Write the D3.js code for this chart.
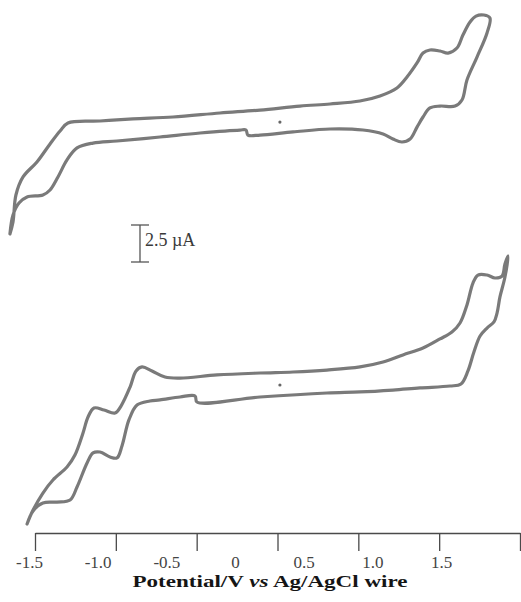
<!DOCTYPE html>
<html>
<head>
<meta charset="utf-8">
<script src="https://cdn.jsdelivr.net/npm/d3@7/dist/d3.min.js"></script>
<style>
  html, body { margin: 0; padding: 0; background: #fff; }
  svg { display: block; }
</style>
</head>
<body>
<svg id="chart" width="521" height="602"></svg>
<script>
// Cyclic voltammograms: potential (V) and current (µA), traced as closed loops.
const cvTopPotential = [
  -1.655, -1.636, -1.618, -1.574, -1.488, -1.407, -1.345, -1.296, -1.098, -0.894,
  -0.646, -0.356, -0.108, 0.139, 0.325, 0.510, 0.634, 0.739, 0.801, 0.863,
  0.900, 0.943, 1.005, 1.055, 1.110, 1.147, 1.191, 1.228, 1.277, 1.314,
  1.296, 1.234, 1.172, 1.141, 1.098, 1.005, 0.943, 0.900, 0.863, 0.820,
  0.770, 0.714, 0.653, 0.529, 0.325, 0.096, -0.108, -0.183, -0.195, -0.232,
  -0.479, -0.727, -0.993, -1.141, -1.240, -1.302, -1.358, -1.407, -1.451, -1.549,
  -1.599, -1.636, -1.655
];
const cvTopCurrent = [
  -7.36, -6.55, -4.73, -3.51, -2.50, -1.28, -0.41, 0.14, 0.27, 0.41,
  0.54, 0.81, 1.01, 1.28, 1.42, 1.62, 1.96, 2.50, 3.24, 4.19,
  4.86, 5.07, 5.00, 4.86, 5.20, 6.08, 6.96, 7.36, 7.43, 7.23,
  6.22, 4.59, 3.04, 1.69, 1.28, 1.28, 1.15, 0.54, -0.14, -0.95,
  -1.15, -0.95, -0.61, -0.34, -0.27, -0.47, -0.68, -0.68, -0.34, -0.34,
  -0.54, -0.81, -1.08, -1.22, -1.55, -2.36, -3.51, -4.39, -4.73, -4.86,
  -5.27, -6.08, -7.36
];

const cvBottomPotential = [
  -1.549, -1.512, -1.451, -1.389, -1.302, -1.253, -1.203, -1.172, -1.135, -1.073,
  -1.005, -0.968, -0.912, -0.875, -0.838, -0.776, -0.696, -0.603, -0.374, -0.108,
  0.096, 0.306, 0.510, 0.653, 0.776, 0.900, 1.005, 1.079, 1.129, 1.172,
  1.209, 1.240, 1.296, 1.345, 1.389, 1.407, 1.426, 1.407, 1.376, 1.358,
  1.339, 1.296, 1.253, 1.215, 1.178, 1.135, 1.067, 0.881, 0.714, 0.510,
  0.306, -0.108, -0.498, -0.510, -0.603, -0.727, -0.789, -0.869, -0.919, -0.962,
  -0.993, -1.036, -1.098, -1.141, -1.178, -1.240, -1.283, -1.364, -1.451, -1.512,
  -1.549
];
const cvBottomCurrent = [
  -9.39, -8.45, -7.30, -6.42, -5.54, -4.73, -3.24, -2.16, -1.55, -1.69,
  -1.89, -1.42, -0.14, 0.95, 1.22, 0.95, 0.54, 0.47, 0.68, 0.81,
  0.88, 1.01, 1.22, 1.55, 2.03, 2.50, 3.11, 3.58, 4.19, 5.41,
  6.89, 7.43, 7.43, 7.23, 7.36, 8.18, 8.72, 7.30, 5.95, 4.86,
  4.26, 3.85, 3.31, 2.23, 0.95, 0.07, -0.07, -0.20, -0.34, -0.47,
  -0.54, -0.81, -1.15, -0.74, -0.81, -1.01, -1.08, -1.35, -2.36, -4.12,
  -4.93, -4.86, -4.53, -4.59, -5.27, -6.89, -7.77, -7.91, -7.97, -8.51,
  -9.39
];

// Small reference marks near 0 V on each trace
const markerPotential = [0.015, 0.015];
const markerCurrent = [0.2, 0.0];

const xTickValues = [-1.5, -1.0, -0.5, 0, 0.5, 1.0, 1.5];
const xTickLabels = ["-1.5", "-1.0", "-0.5", "0", "0.5", "1.0", "1.5"];
const scaleBarCurrent = 2.5;
const scaleBarLabel = "2.5 µA";

const svg = d3.select("#chart");
const traceColor = "#7a7a7a";
const serif = "'Liberation Serif', 'Times New Roman', serif";

// Potential axis (tick marks) and the offset labels printed beneath them
const x = d3.scaleLinear().domain([-1.5, 1.5]).range([35, 520]);
const xLabel = d3.scaleLinear().domain([-1.5, 1.5]).range([29, 441]);

// One current scale per trace, same µA-to-pixel factor
const yTop = d3.scaleLinear().domain([0, 2.5]).range([125, 88]);
const yBottom = d3.scaleLinear().domain([0, 2.5]).range([385, 348]);

function drawTrace(potential, current, yScale) {
  const pts = potential.map((e, i) => [e, current[i]]);
  const line = d3.line()
    .x(d => x(d[0]))
    .y(d => yScale(d[1]))
    .curve(d3.curveCatmullRom.alpha(0.5));
  svg.append("path")
    .datum(pts)
    .attr("d", line)
    .attr("fill", "none")
    .attr("stroke", traceColor)
    .attr("stroke-width", 3.2)
    .attr("stroke-linejoin", "round")
    .attr("stroke-linecap", "round");
}

drawTrace(cvTopPotential, cvTopCurrent, yTop);
drawTrace(cvBottomPotential, cvBottomCurrent, yBottom);

[yTop, yBottom].forEach((ys, i) => {
  svg.append("circle")
    .attr("cx", x(markerPotential[i]))
    .attr("cy", ys(markerCurrent[i]))
    .attr("r", 1.6)
    .attr("fill", "#666");
});

// Current scale bar
const barX = 140, barBottom = 262, capHalf = 9;
const barLen = yTop(0) - yTop(scaleBarCurrent);
const bar = svg.append("g")
  .attr("stroke", "#555")
  .attr("stroke-width", 1.3);
bar.append("line").attr("x1", barX).attr("x2", barX)
  .attr("y1", barBottom).attr("y2", barBottom - barLen);
bar.append("line").attr("x1", barX - capHalf).attr("x2", barX + capHalf)
  .attr("y1", barBottom - barLen).attr("y2", barBottom - barLen);
bar.append("line").attr("x1", barX - capHalf).attr("x2", barX + capHalf)
  .attr("y1", barBottom).attr("y2", barBottom);
svg.append("text")
  .attr("x", barX + 5)
  .attr("y", barBottom - barLen + 21)
  .attr("font-family", serif)
  .attr("font-size", 18)
  .attr("fill", "#3a3a3a")
  .text(scaleBarLabel);

// Bottom axis
const axis = d3.axisBottom(x)
  .tickValues(xTickValues)
  .tickSizeInner(18)
  .tickSizeOuter(0)
  .tickFormat((d, i) => xTickLabels[i]);

const gx = svg.append("g")
  .attr("transform", "translate(0,533)")
  .call(axis);
gx.select(".domain").attr("stroke", "#4a4a4a").attr("stroke-width", 1.3);
gx.selectAll(".tick line").attr("stroke", "#4a4a4a").attr("stroke-width", 1.3);
gx.selectAll(".tick text")
  .attr("x", d => xLabel(d) - x(d))
  .attr("y", 35)
  .attr("dy", 0)
  .attr("font-family", serif)
  .attr("font-size", 17)
  .attr("fill", "#444");

// Axis title
const title = svg.append("text")
  .attr("x", 270)
  .attr("y", 587)
  .attr("text-anchor", "middle")
  .attr("font-family", serif)
  .attr("font-size", 17)
  .attr("font-weight", "bold")
  .attr("fill", "#151515")
  .attr("textLength", 275)
  .attr("lengthAdjust", "spacingAndGlyphs");
title.append("tspan").text("Potential/V ");
title.append("tspan").attr("font-style", "italic").text("vs");
title.append("tspan").text(" Ag/AgCl wire");
</script>
</body>
</html>
